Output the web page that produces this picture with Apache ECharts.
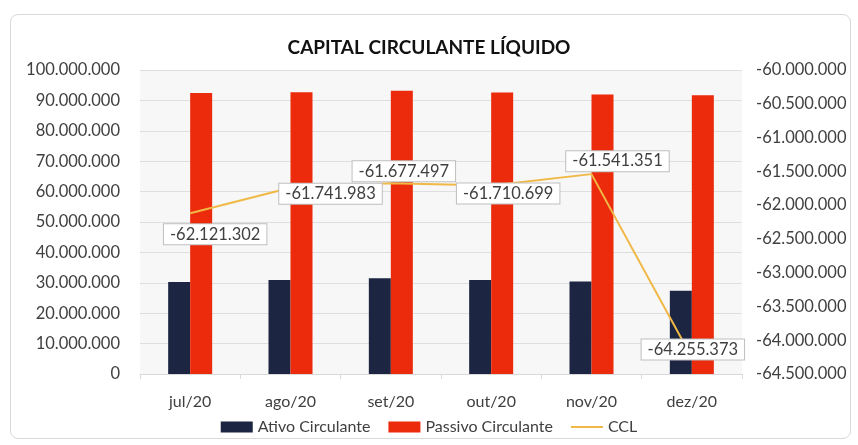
<!DOCTYPE html>
<html>
<head>
<meta charset="utf-8">
<script src="https://cdn.jsdelivr.net/npm/echarts@6/dist/echarts.min.js"></script>
<style>
html,body{margin:0;padding:0;background:#fff;}
#frame{position:absolute;left:10px;top:14px;width:841px;height:425px;border:1px solid #d9d9d9;border-radius:8px;box-sizing:border-box;}
#chart{position:absolute;left:0;top:0;width:858px;height:445px;}
</style>
</head>
<body>
<div id="frame"></div>
<div id="chart"></div>
<script>
const categories = ['jul/20','ago/20','set/20','out/20','nov/20','dez/20'];
const ativoCirculante = [30300000, 30900000, 31500000, 30900000, 30400000, 27400000];
const passivoCirculante = [92421302, 92641983, 93177497, 92610699, 91941351, 91655373];
const ccl = [-62121302, -61741983, -61677497, -61710699, -61541351, -64255373];
const labelOffsets = [[25, 21], [40, 6], [13, -12], [17, 8], [26, -13], [1, -8]];

function fmt(v){
  const neg = v < 0;
  const s = Math.abs(Math.round(v)).toString().replace(/\B(?=(\d{3})+(?!\d))/g, '.');
  return (neg ? '-' : '') + s;
}

const font = 'Lato, "Open Sans", sans-serif';
const chart = echarts.init(document.getElementById('chart'));
chart.setOption({
  animation: false,
  backgroundColor: 'transparent',
  title: {
    text: 'CAPITAL CIRCULANTE LÍQUIDO',
    left: 'center', top: 33,
    textStyle: {fontFamily: font, fontSize: 19, fontWeight: 'bold', color: '#111'}
  },
  legend: {
    bottom: 5, left: 'center', itemGap: 18,
    itemWidth: 32, itemHeight: 11,
    textStyle: {fontFamily: font, fontSize: 16, color: '#404040'},
    data: [
      {name: 'Ativo Circulante', icon: 'rect'},
      {name: 'Passivo Circulante', icon: 'rect'},
      {name: 'CCL', icon: 'path://M0,0 L30,0 L30,2 L0,2 Z'}
    ]
  },
  grid: {left: 140, right: 116, top: 70, bottom: 71, show: true, backgroundColor: '#f7f7f7', borderWidth: 0},
  xAxis: {
    type: 'category', data: categories,
    axisLine: {lineStyle: {color: '#d9d9d9'}},
    axisTick: {show: true, lineStyle: {color: '#d9d9d9'}},
    axisLabel: {fontFamily: font, fontSize: 16, color: '#404040', margin: 20}
  },
  yAxis: [
    {
      type: 'value', min: 0, max: 100000000, interval: 10000000,
      axisLabel: {fontFamily: font, fontSize: 16.5, color: '#404040', formatter: fmt, margin: 20},
      splitLine: {lineStyle: {color: '#dedede'}},
      axisLine: {show: false}, axisTick: {show: false}
    },
    {
      type: 'value', min: -64500000, max: -60000000, interval: 500000,
      axisLabel: {fontFamily: font, fontSize: 16.5, color: '#404040', formatter: fmt, margin: 14},
      splitLine: {show: false},
      axisLine: {show: false}, axisTick: {show: false}
    }
  ],
  series: [
    {
      name: 'Ativo Circulante', type: 'bar', data: ativoCirculante,
      barWidth: 22, barGap: '0%',
      itemStyle: {color: '#1c2541'}
    },
    {
      name: 'Passivo Circulante', type: 'bar', data: passivoCirculante,
      barWidth: 22,
      itemStyle: {color: '#ec2a0c'}
    },
    {
      name: 'CCL', type: 'line', yAxisIndex: 1,
      data: ccl,
      symbol: 'circle', symbolSize: 0, showSymbol: true,
      lineStyle: {color: '#f0b845', width: 2},
      itemStyle: {color: '#f0b845'},
      z: 5,
      label: {
        show: true, position: 'inside',
        formatter: p => fmt(p.value),
        fontFamily: font, fontSize: 16.5, color: '#404040',
        backgroundColor: '#fff', borderColor: '#bfbfbf', borderWidth: 1,
        padding: [2, 6, 1, 6]
      },
      labelLayout: p => ({
        dx: labelOffsets[p.dataIndex][0],
        dy: labelOffsets[p.dataIndex][1],
        hideOverlap: false
      })
    }
  ]
});
</script>
</body>
</html>
